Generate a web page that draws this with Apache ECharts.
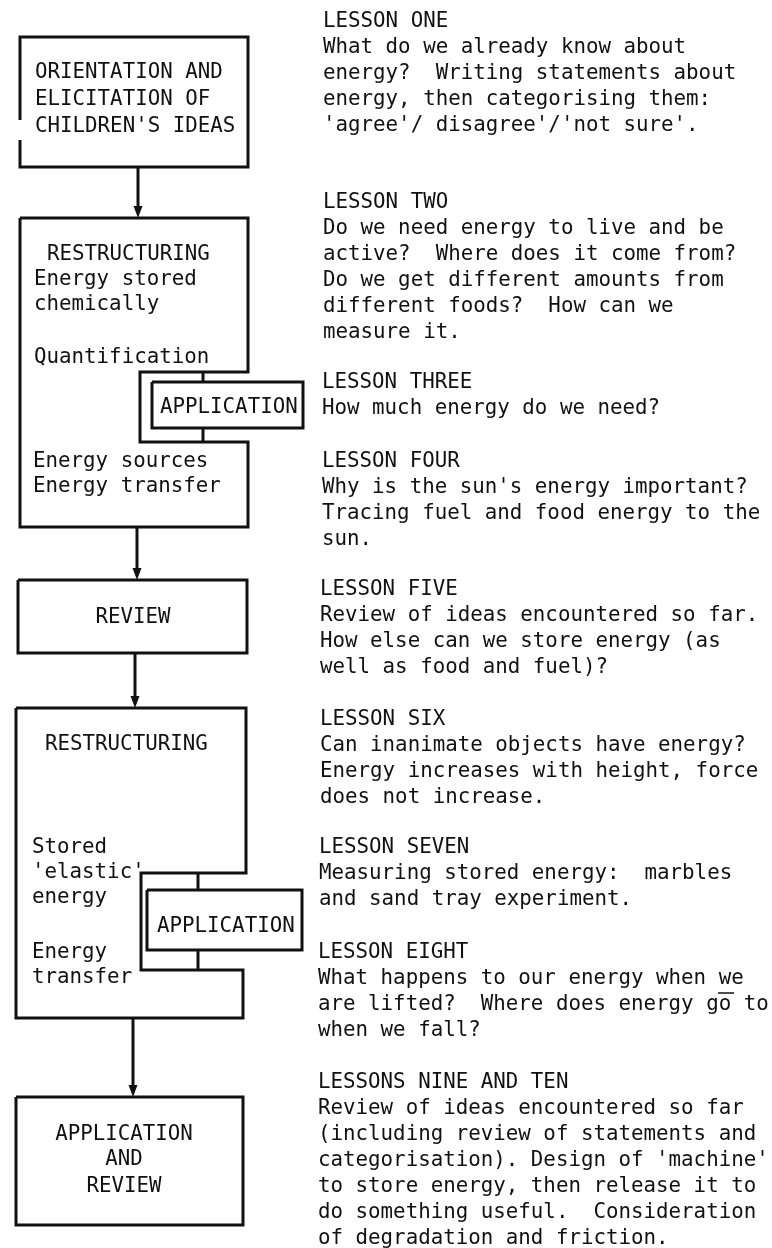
<!DOCTYPE html>
<html>
<head>
<meta charset="utf-8">
<script src="https://cdn.jsdelivr.net/npm/echarts@6/dist/echarts.min.js"></script>
<style>
  html, body { margin: 0; padding: 0; background: #fff; }
  #chart { width: 772px; height: 1248px; }
</style>
</head>
<body>
<div id="chart"></div>
<script>
// box outlines (page units, y grows downward)
var boxOutlines = [
  [[20,140],[20,167],[248,167],[248,37],[20,37],[20,120]],
  [[20,218],[248,218],[248,372],[140,372],[140,442],[248,442],[248,527],[20,527],[20,218]],
  [[152,382],[303,382],[303,428],[152,428],[152,382]],
  [[18,580],[247,580],[247,653],[18,653],[18,580]],
  [[16,708],[246,708],[246,873],[141,873],[141,970],[243,970],[243,1018],[16,1018],[16,708]],
  [[147,890],[302,890],[302,950],[147,950],[147,890]],
  [[16,1097],[243,1097],[243,1225],[16,1225],[16,1097]]
];
// arrows: x, from y, to y
var arrows = [[138,167,218],[137,527,580],[135,653,708],[133,1018,1097]];
// short links into the APPLICATION boxes
var connectors = [[203,372,382],[203,428,442],[198,873,890],[198,950,970]];
// stray rule in lesson eight
var strayMarks = [[718,734,993]];

// labels inside the boxes: x, y, text, align
var boxLabels = [
  [35,73,'ORIENTATION AND','left'],
  [35,100,'ELICITATION OF','left'],
  [35,127,"CHILDREN'S IDEAS",'left'],
  [47,255,'RESTRUCTURING','left'],
  [34,280,'Energy stored','left'],
  [34,305,'chemically','left'],
  [34,358,'Quantification','left'],
  [160,408,'APPLICATION','left'],
  [33,462,'Energy sources','left'],
  [33,487,'Energy transfer','left'],
  [133,618,'REVIEW','center'],
  [45,745,'RESTRUCTURING','left'],
  [32,848,'Stored','left'],
  [32,873,"'elastic'",'left'],
  [32,898,'energy','left'],
  [157,927,'APPLICATION','left'],
  [32,953,'Energy','left'],
  [32,978,'transfer','left'],
  [124,1135,'APPLICATION','center'],
  [124,1160,'AND','center'],
  [124,1187,'REVIEW','center']
];

// lesson notes on the right
var lessonTitles = ['LESSON ONE','LESSON TWO','LESSON THREE','LESSON FOUR','LESSON FIVE',
  'LESSON SIX','LESSON SEVEN','LESSON EIGHT','LESSONS NINE AND TEN'];
var lessonY = [22,203,383,462,590,720,848,953,1083];
var lessonX = [323,323,322,322,320,320,319,318,318];
var lessonLines = [
  ['What do we already know about',
   'energy?  Writing statements about',
   'energy, then categorising them:',
   "'agree'/ disagree'/'not sure'."],
  ['Do we need energy to live and be',
   'active?  Where does it come from?',
   'Do we get different amounts from',
   'different foods?  How can we',
   'measure it.'],
  ['How much energy do we need?'],
  ["Why is the sun's energy important?",
   'Tracing fuel and food energy to the',
   'sun.'],
  ['Review of ideas encountered so far.',
   'How else can we store energy (as',
   'well as food and fuel)?'],
  ['Can inanimate objects have energy?',
   'Energy increases with height, force',
   'does not increase.'],
  ['Measuring stored energy:  marbles',
   'and sand tray experiment.'],
  ['What happens to our energy when we',
   'are lifted?  Where does energy go to',
   'when we fall?'],
  ['Review of ideas encountered so far',
   '(including review of statements and',
   "categorisation). Design of 'machine'",
   'to store energy, then release it to',
   'do something useful.  Consideration',
   'of degradation and friction.']
];
var linePitch = 26;

var ink = '#111';
var font = '"DejaVu Sans Mono", "Liberation Mono", monospace';
var fontSize = 20.8;

// flatten lesson text into rows
var lessonRows = [];
lessonTitles.forEach(function (t, i) {
  lessonRows.push([lessonX[i], lessonY[i], t]);
  lessonLines[i].forEach(function (l, j) {
    lessonRows.push([lessonX[i], lessonY[i] + (j + 1) * linePitch, l]);
  });
});

function idx(arr) { return arr.map(function (_, i) { return i; }); }

var myChart = echarts.init(document.getElementById('chart'));
myChart.setOption({
  animation: false,
  backgroundColor: '#fff',
  grid: { left: 0, right: 0, top: 0, bottom: 0 },
  xAxis: { type: 'value', min: 0, max: 772, show: false },
  yAxis: { type: 'value', min: 0, max: 1248, inverse: true, show: false },
  series: [
    {
      type: 'custom', clip: false, data: idx(boxOutlines),
      renderItem: function (params, api) {
        var pts = boxOutlines[params.dataIndex].map(function (p) { return api.coord(p); });
        return { type: 'polyline', shape: { points: pts },
          style: { stroke: ink, lineWidth: 3, fill: null, lineJoin: 'miter' } };
      }
    },
    {
      type: 'custom', clip: false, data: idx(connectors),
      renderItem: function (params, api) {
        var c = connectors[params.dataIndex];
        var a = api.coord([c[0], c[1]]), b = api.coord([c[0], c[2]]);
        return { type: 'line', shape: { x1: a[0], y1: a[1], x2: b[0], y2: b[1] },
          style: { stroke: ink, lineWidth: 3 } };
      }
    },
    {
      type: 'custom', clip: false, data: idx(strayMarks),
      renderItem: function (params, api) {
        var c = strayMarks[params.dataIndex];
        var a = api.coord([c[0], c[2]]), b = api.coord([c[1], c[2]]);
        return { type: 'line', shape: { x1: a[0], y1: a[1], x2: b[0], y2: b[1] },
          style: { stroke: ink, lineWidth: 1.5 } };
      }
    },
    {
      type: 'custom', clip: false, data: idx(arrows),
      renderItem: function (params, api) {
        var c = arrows[params.dataIndex];
        var a = api.coord([c[0], c[1]]), b = api.coord([c[0], c[2]]);
        return { type: 'group', children: [
          { type: 'line', shape: { x1: a[0], y1: a[1], x2: b[0], y2: b[1] - 8 },
            style: { stroke: ink, lineWidth: 3 } },
          { type: 'polygon', shape: { points: [[b[0] - 4.5, b[1] - 12], [b[0] + 4.5, b[1] - 12], [b[0], b[1]]] },
            style: { fill: ink } }
        ] };
      }
    },
    {
      type: 'custom', clip: false, data: idx(boxLabels),
      renderItem: function (params, api) {
        var l = boxLabels[params.dataIndex];
        var p = api.coord([l[0], l[1]]);
        return { type: 'text', x: p[0], y: p[1],
          style: { text: l[2], fill: ink, fontSize: fontSize, fontFamily: font,
            align: l[3], verticalAlign: 'middle' } };
      }
    },
    {
      type: 'custom', clip: false, data: idx(lessonRows),
      renderItem: function (params, api) {
        var r = lessonRows[params.dataIndex];
        var p = api.coord([r[0], r[1]]);
        return { type: 'text', x: p[0], y: p[1],
          style: { text: r[2], fill: ink, fontSize: fontSize, fontFamily: font,
            align: 'left', verticalAlign: 'middle' } };
      }
    }
  ]
});
</script>
</body>
</html>
